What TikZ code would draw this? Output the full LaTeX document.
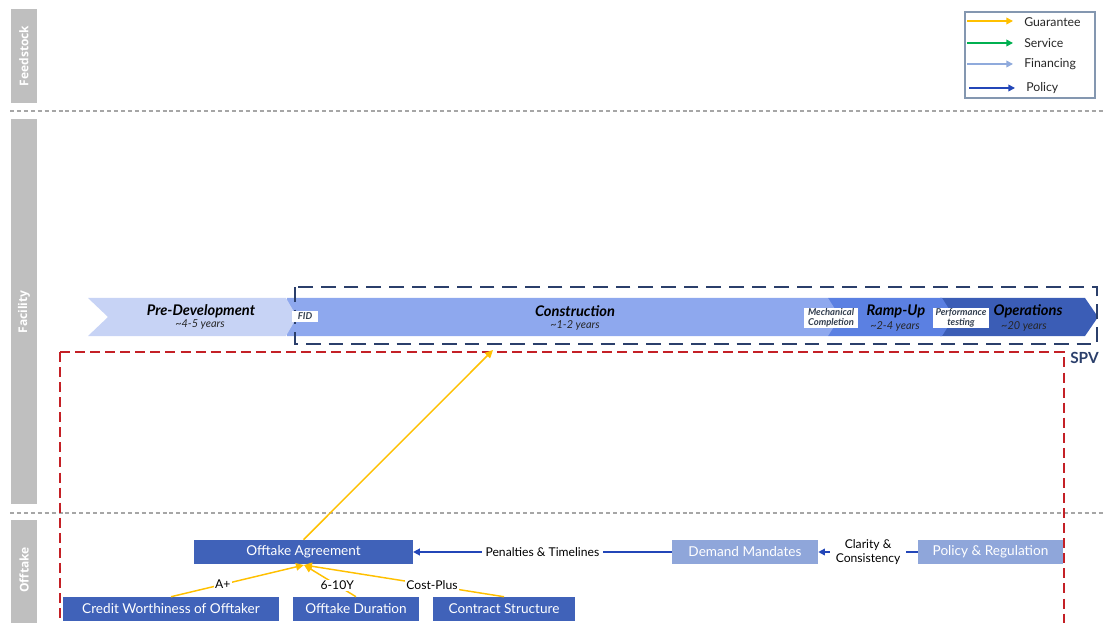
\documentclass[tikz,border=0pt]{standalone}
\usepackage{fontspec}
\setmainfont{Lato}
\setsansfont{Open Sans}
\usetikzlibrary{arrows.meta,positioning}

\definecolor{sidegray}{HTML}{BFBFBF}
\definecolor{sepgray}{HTML}{A6A6A6}
\definecolor{legendframe}{HTML}{8497B0}
\definecolor{guarantee}{HTML}{FFC000}
\definecolor{service}{HTML}{00B050}
\definecolor{financing}{HTML}{8FAADC}
\definecolor{policy}{HTML}{2346B8}
\definecolor{predev}{HTML}{C7D3F5}
\definecolor{constr}{HTML}{8EA8EE}
\definecolor{rampup}{HTML}{5B80E2}
\definecolor{ops}{HTML}{3B5DB6}
\definecolor{spvnavy}{HTML}{2B3F6B}
\definecolor{redline}{HTML}{C42026}
\definecolor{boxdark}{HTML}{4062B9}
\definecolor{boxlight}{HTML}{8FA6DA}
\definecolor{textdark}{HTML}{262626}
\definecolor{tagtext}{HTML}{333F50}

\tikzset{
  sidebar/.style={fill=sidegray, draw=none},
  sidelabel/.style={rotate=90, text=white, font=\sffamily\bfseries\fontsize{9}{10}\selectfont},
  separator/.style={draw=sepgray, line width=0.8pt, dash pattern=on 3pt off 2.2pt},
  legendarrow/.style={line width=1.1pt, -{Triangle[length=5pt,width=5pt]}},
  legendtext/.style={anchor=west, text=textdark, font=\fontsize{9.2}{10}\selectfont, inner sep=0pt},
  phase/.style={font=\bfseries\itshape\fontsize{11}{12}\selectfont, text=black, inner sep=0pt},
  phaseyears/.style={font=\itshape\fontsize{8.2}{9}\selectfont, text=textdark, inner sep=0pt},
  tag/.style={fill=white, text=tagtext, font=\bfseries\itshape\fontsize{7.1}{7.4}\selectfont,
    inner sep=0.6pt, align=center},
  dkbox/.style={fill=boxdark, text=white, font=\fontsize{10.2}{11}\selectfont,
    minimum height=18pt, inner sep=0pt},
  ltbox/.style={fill=boxlight, text=white, font=\fontsize{10.2}{11}\selectfont,
    minimum height=18pt, inner sep=0pt},
  guar/.style={draw=guarantee, line width=1.1pt, -{Triangle[length=6pt,width=5.5pt]}},
  pol/.style={draw=policy, line width=1.1pt, -{Triangle[length=5pt,width=5pt]}},
  linklabel/.style={fill=white, text=black, font=\fontsize{9.1}{10}\selectfont,
    inner sep=1pt, align=center},
}

\begin{document}
\begin{tikzpicture}[x=0.75pt,y=-0.75pt]
\useasboundingbox (0,0) rectangle (1105,623);
\clip (0,0) rectangle (1105,623);

% lane bars on the left
\fill[sidebar] (11,9) rectangle (37,103);
\fill[sidebar] (11,119) rectangle (37,504);
\fill[sidebar] (11,520) rectangle (37,630);
\node[sidelabel] (lfeed) at (24,56) {Feedstock};
\node[sidelabel] (lfac)  at (24,312) {Facility};
\node[sidelabel] (loff)  at (24,570) {Offtake};

% lane separators
\draw[separator] (10,111) -- (1105,111);
\draw[separator] (10,513) -- (1105,513);

% legend
\draw[draw=legendframe, line width=1.1pt, fill=white] (965,12) rectangle (1095,98);
\coordinate (g1) at (967,21);  \coordinate (g2) at (1013,21);
\coordinate (s1) at (967,43);  \coordinate (s2) at (1013,43);
\coordinate (f1) at (967,64);  \coordinate (f2) at (1013,64);
\coordinate (p1) at (969,88);  \coordinate (p2) at (1015,88);
\draw[legendarrow, draw=guarantee] (g1) -- (g2);
\draw[legendarrow, draw=service] (s1) -- (s2);
\draw[legendarrow, draw=financing] (f1) -- (f2);
\draw[legendarrow, draw=policy] (p1) -- (p2);
\node[legendtext] (tg) at (1024,22) {Guarantee};
\node[legendtext] (ts) at (1024,43) {Service};
\node[legendtext] (tf) at (1024,64) {Financing};
\node[legendtext] (tp) at (1026,88) {Policy};

% project phases as chevrons, drawn right to left so each tip overlaps the next
\fill[ops]    (940,298) -- (1085,298) -- (1098,317) -- (1085,336) -- (940,336) -- cycle;
\fill[rampup] (828,298) -- (942,298) -- (954,317) -- (942,336) -- (828,336) -- cycle;
\fill[constr] (287,298) -- (828,298) -- (840,317) -- (828,336) -- (287,336) -- cycle;
\fill[predev] (88,298) -- (286,298) -- (297,317) -- (286,336) -- (88,336) -- (108,317) -- cycle;

\node[phase] (npre) at (201,311) {Pre-Development};
\node[phaseyears] (ypre) at (200,325) {\textasciitilde 4-5 years};
\node[phase] (ncon) at (575,311) {Construction};
\node[phaseyears] (ycon) at (575,325) {\textasciitilde 1-2 years};
\node[phase] (nramp) at (896,311) {Ramp-Up};
\node[phaseyears] (yramp) at (895,326) {\textasciitilde 2-4 years};
\node[phase] (nops) at (1028,311) {Operations};
\node[phaseyears] (yops) at (1024,326) {\textasciitilde 20 years};

% SPV boundary
\draw[draw=spvnavy, line width=1.6pt, dash pattern=on 11pt off 6pt]
  (295,287) rectangle (1097,344);
\node[text=spvnavy, font=\bfseries\fontsize{11.5}{12}\selectfont, anchor=west, inner sep=0pt]
  (spv) at (1070,358) {SPV};

% milestone tags
\node[tag, minimum width=20pt, minimum height=8pt] (fid) at (305,316.5) {FID};
\node[tag, minimum width=40pt, minimum height=14pt] (mech) at (831,318) {Mechanical\\Completion};
\node[tag, minimum width=42pt, minimum height=14pt] (perf) at (961,318) {Performance\\testing};

% offtake scope boundary
\draw[draw=redline, line width=1.2pt, dash pattern=on 7.5pt off 3.8pt]
  (60,352) -- (1064,352) -- (1064,640) (60,352) -- (60,640);

% offtake boxes
\node[dkbox, minimum width=164pt] (agree) at (303.5,552) {Offtake Agreement};
\node[dkbox, minimum width=162pt] (credit) at (171,609) {Credit Worthiness of Offtaker};
\node[dkbox, minimum width=94.5pt] (dur) at (356,609) {Offtake Duration};
\node[dkbox, minimum width=106pt] (contract) at (504,609) {Contract Structure};
\node[ltbox, minimum width=109.5pt] (demand) at (745,552) {Demand Mandates};
\node[ltbox, minimum width=108.5pt] (polreg) at (990.5,552) {Policy \& Regulation};

% links
\coordinate (conhit) at (493,350);
\coordinate (agreebase) at (304,565);
\draw[guar] (agree.north) -- (conhit);
\draw[guar] (credit.north) -- node[linklabel, pos=0.39] (la) {A+} (agreebase);
\draw[guar] (dur.north) -- node[linklabel, pos=0.36] (lb) {6-10Y} (agreebase);
\draw[guar] (contract.north) -- node[linklabel, pos=0.36] (lc) {Cost-Plus} (agreebase);
\draw[pol] (demand.west) -- node[linklabel, inner xsep=3pt] (lp) {Penalties \& Timelines} (agree.east);
\draw[pol] (polreg.west) -- node[linklabel, inner xsep=4pt] (lcl) {Clarity \&\\Consistency} (demand.east);
\end{tikzpicture}
\end{document}
